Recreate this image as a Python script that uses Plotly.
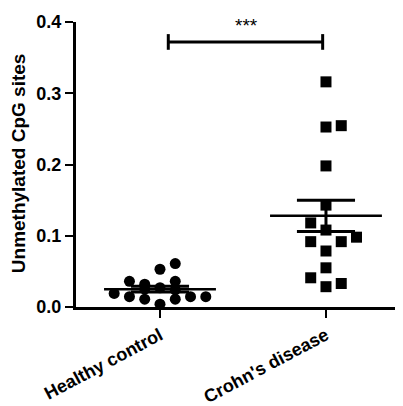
import plotly.graph_objects as go

# ---- data ----
categories = ["Healthy control", "Crohn's disease"]

healthy_values = [0.019, 0.036, 0.0145, 0.032, 0.011, 0.025, 0.053, 0.027, 0.004,
                  0.061, 0.036, 0.011, 0.024, 0.0145, 0.0145]
healthy_cols = [-3, -2, -2, -1, -1, -1, 0, 0, 0, 1, 1, 1, 1, 2, 3]

crohn_values = [0.316, 0.2526, 0.198, 0.143, 0.108, 0.0786, 0.055, 0.0285,
                0.2545, 0.0917, 0.033, 0.118, 0.0917, 0.041, 0.098]
crohn_cols = [0, 0, 0, 0, 0, 0, 0, 0, 1, 1, 1, -1, -1, -1, 2]

group_means = [0.025, 0.128]
group_sem = [0.004, 0.022]

sig_label = "***"
sig_level = 0.372
y_ticks = [0.0, 0.1, 0.2, 0.3, 0.4]
y_tick_labels = ["0.0", "0.1", "0.2", "0.3", "0.4"]
y_title = "Unmethylated CpG sites"

# ---- styling ----
FONT = "Liberation Sans"
COL_STEP = 0.092
MEAN_HALF = 0.337
CAP_HALF = 0.175

fig = go.Figure()

fig.add_trace(go.Scatter(
    x=[0 + c * COL_STEP for c in healthy_cols], y=healthy_values,
    mode="markers", marker=dict(symbol="circle", size=11, color="black"),
    cliponaxis=False, showlegend=False))
fig.add_trace(go.Scatter(
    x=[1 + c * COL_STEP for c in crohn_cols], y=crohn_values,
    mode="markers", marker=dict(symbol="square", size=11, color="black"),
    cliponaxis=False, showlegend=False))

for i, (m, s) in enumerate(zip(group_means, group_sem)):
    # mean line
    fig.add_trace(go.Scatter(x=[i - MEAN_HALF, i + MEAN_HALF], y=[m, m], mode="lines",
                             line=dict(color="black", width=2.5), showlegend=False,
                             cliponaxis=False))
    # SEM whisker
    fig.add_trace(go.Scatter(x=[i, i], y=[m - s, m + s], mode="lines",
                             line=dict(color="black", width=3), showlegend=False))
    for yy in (m - s, m + s):
        fig.add_trace(go.Scatter(x=[i - CAP_HALF, i + CAP_HALF], y=[yy, yy], mode="lines",
                                 line=dict(color="black", width=3), showlegend=False))

# significance bracket
fig.add_trace(go.Scatter(x=[0.05, 0.98], y=[sig_level, sig_level], mode="lines",
                         line=dict(color="black", width=3), showlegend=False))
for xx in (0.05, 0.98):
    fig.add_trace(go.Scatter(x=[xx, xx], y=[sig_level - 0.011, sig_level + 0.011],
                             mode="lines", line=dict(color="black", width=3),
                             showlegend=False, cliponaxis=False))
fig.add_annotation(x=0.52, y=0.40, xref="x", yref="y", text=sig_label, showarrow=False,
                   font=dict(family=FONT, size=19, color="black"), yanchor="middle", yshift=-3)

fig.add_annotation(x=-0.177, y=0.505, xref="paper", yref="paper", text=y_title,
                   textangle=-90, showarrow=False, xanchor="center", yanchor="middle",
                   font=dict(family=FONT, size=19, color="black", weight="bold"))

fig.update_layout(
    width=395, height=398,
    margin=dict(l=68, r=0, t=14, b=99),
    paper_bgcolor="white", plot_bgcolor="white",
    font=dict(family=FONT, color="black"),
    showlegend=False,
    xaxis=dict(
        range=[-0.506, 1.464], tickmode="array", tickvals=[0, 1], ticktext=categories,
        tickangle=-28, ticks="outside", ticklen=8, tickwidth=2, tickcolor="black",
        showline=True, linecolor="black", linewidth=3, showgrid=False, zeroline=False,
        tickfont=dict(family=FONT, size=18, color="black", weight="bold"),
    ),
    yaxis=dict(
        range=[0, 0.4], tickmode="array", tickvals=y_ticks, ticktext=y_tick_labels,
        ticks="outside", ticklen=8, tickwidth=2, tickcolor="black",
        showline=True, linecolor="black", linewidth=3, showgrid=False, zeroline=False,
        tickfont=dict(family=FONT, size=18, color="black", weight="bold"),
    ),
)

fig.write_html("out.html")
